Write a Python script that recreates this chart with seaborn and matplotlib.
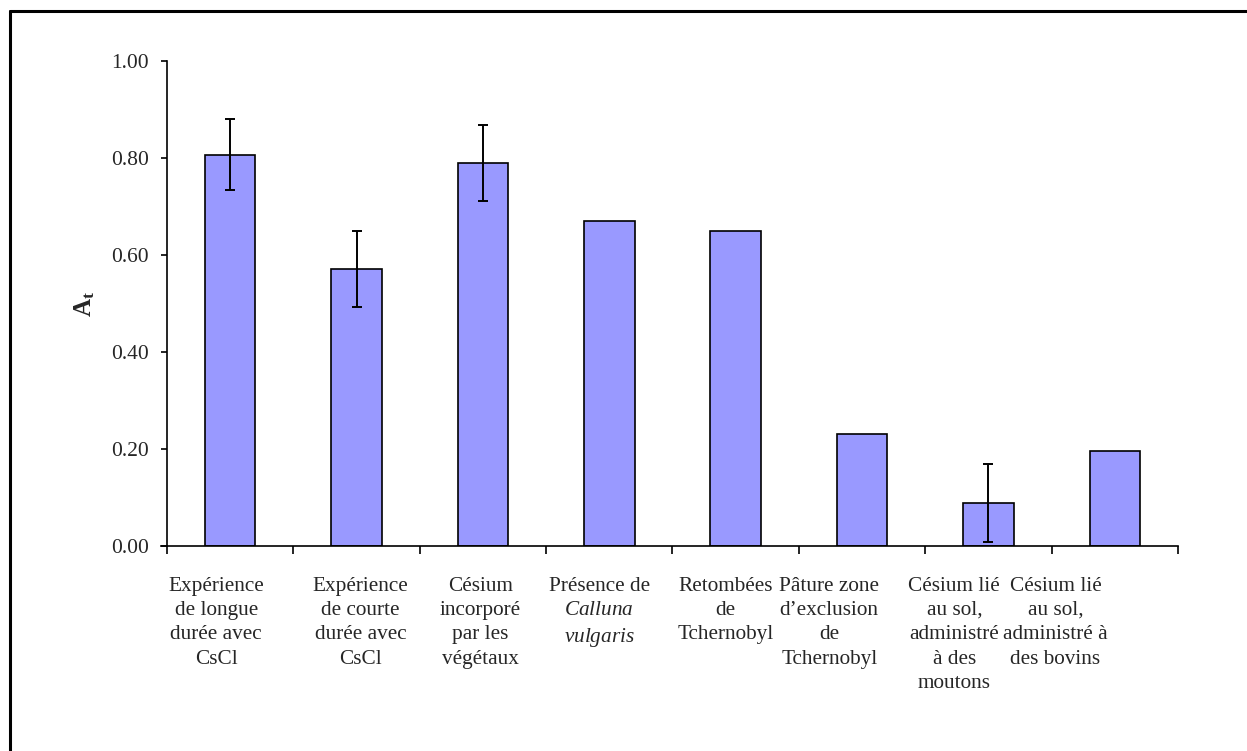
import numpy as np
import pandas as pd
import matplotlib
matplotlib.use("Agg")
import matplotlib.pyplot as plt
from matplotlib.lines import Line2D
from matplotlib.ticker import FixedLocator, FormatStrFormatter
import seaborn as sns

# Categories (French labels, with italic species name)
categories = [
    "Expérience\nde longue\ndurée avec\nCsCl",
    "Expérience\nde courte\ndurée avec\nCsCl",
    "Césium\nincorporé\npar les\nvégétaux",
    "Présence de\n$\\it{Calluna}$\n$\\it{vulgaris}$",
    "Retombées\nde\nTchernobyl",
    "Pâture zone\nd\u2019exclusion\nde\nTchernobyl",
    "Césium lié\nau sol,\nadministré\nà des\nmoutons",
    "Césium lié\nau sol,\nadministré à\ndes bovins",
]
at_values = [0.807, 0.571, 0.790, 0.671, 0.650, 0.231, 0.089, 0.196]
at_errors = [0.074, 0.078, 0.079, np.nan, np.nan, np.nan, 0.080, np.nan]
y_ticks = [0.0, 0.2, 0.4, 0.6, 0.8, 1.0]

sns.set_theme(style="white")
plt.rcParams["font.family"] = ["Liberation Serif", "DejaVu Serif"]
plt.rcParams["mathtext.fontset"] = "custom"
plt.rcParams["mathtext.rm"] = "Liberation Serif"
plt.rcParams["mathtext.it"] = "Liberation Serif:italic"
plt.rcParams["mathtext.bf"] = "Liberation Serif:bold"

df = pd.DataFrame({"cat": categories, "At": at_values, "err": at_errors})

fig = plt.figure(figsize=(12.47, 7.51), dpi=100)
W, H = 1247, 751
x0_px, x1_px, y0_px, y1_px = 161, 1178, 546, 61
ax = fig.add_axes([x0_px / W, 1 - y0_px / H, (x1_px - x0_px) / W, (y0_px - y1_px) / H])

sns.barplot(data=df, x="cat", y="At", ax=ax, width=0.4, color="#9999FF",
            saturation=1, edgecolor="black", linewidth=1.2, errorbar=None)

xpos = np.arange(len(categories))
ax.errorbar(xpos, df["At"], yerr=df["err"], fmt="none", ecolor="black",
            elinewidth=1.4, capsize=3.8, capthick=1.4)

n = len(categories)
ax.set_xlim(-0.5 - 6 / 126.4, n - 0.5)
ax.set_ylim(0, 1.0)

for s in ["top", "right"]:
    ax.spines[s].set_visible(False)
ax.spines["left"].set_position(("data", -0.5))
for s in ["left", "bottom"]:
    ax.spines[s].set_color("black")
    ax.spines[s].set_linewidth(1.2)

ax.yaxis.set_major_locator(FixedLocator(y_ticks))
ax.yaxis.set_major_formatter(FormatStrFormatter("%.2f"))
ax.tick_params(axis="y", which="major", direction="out", length=4.3, width=1.2,
               color="black", labelsize=15.5, pad=9, left=True)

# Category boundary ticks on the x axis, labels set slightly left of bar centres
ax.xaxis.set_minor_locator(FixedLocator(np.arange(n + 1) - 0.5))
ax.tick_params(axis="x", which="minor", direction="out", length=6, width=1.2,
               color="black", bottom=True)
label_pos = [-0.11, 1.03, 1.98, 2.92, 3.92, 4.74, 5.73, 6.53]
ax.set_xticks(label_pos)
ax.set_xticklabels(categories, fontsize=15.3, linespacing=1.38, va="top")
ax.tick_params(axis="x", which="major", length=0, pad=22)

ax.set_xlabel("")
ax.set_ylabel(r"$\mathbf{A_t}$", fontsize=18, labelpad=10)

# Frame lines along the top and left of the figure
fig.add_artist(Line2D([10 / W, 10 / W], [0, 1 - 10.5 / H], transform=fig.transFigure,
                      color="black", linewidth=2.2))
fig.add_artist(Line2D([10 / W, 1.0], [1 - 10.5 / H, 1 - 10.5 / H], transform=fig.transFigure,
                      color="black", linewidth=2.2))

fig.savefig("out.png", dpi=100, facecolor="white")
